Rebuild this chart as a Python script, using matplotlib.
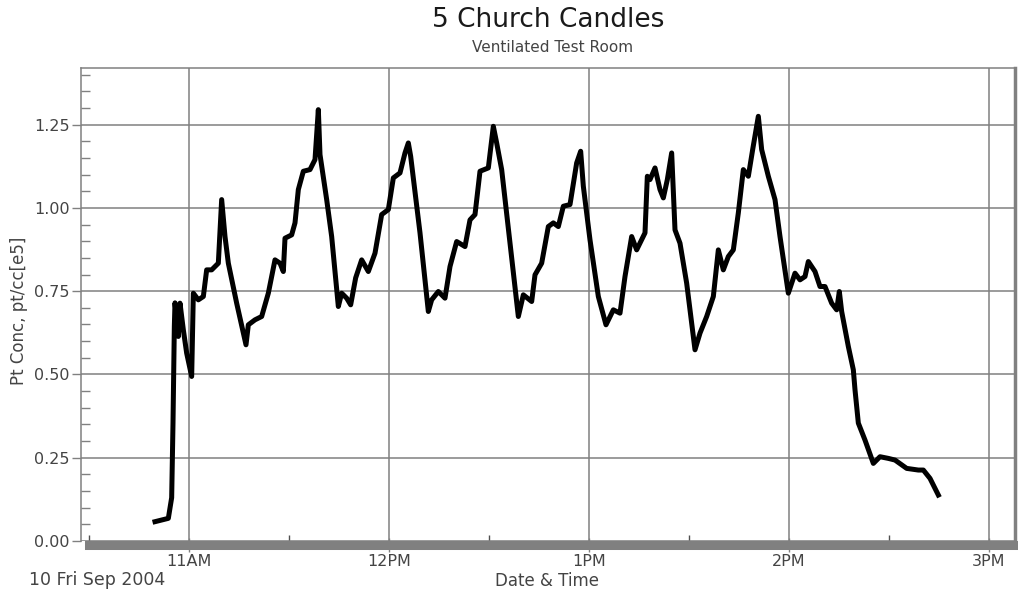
import datetime as dt

import matplotlib
matplotlib.use("Agg")
import matplotlib.dates as mdates
import matplotlib.ticker as mticker
from matplotlib import pyplot as plt

# minutes after 11:00 on 10 Sep 2004
minutes = [-10.2, -6.2, -5.2, -5.0, -4.8, -4.6, -4.4, -4.2, -3.2, -2.7,
           -1.7, -0.7, 0.8, 1.3, 2.8, 4.3, 5.3, 6.8, 8.8, 9.8,
           10.8, 11.8, 14.3, 17.1, 17.8, 19.8, 21.8, 23.8, 25.8, 27.3,
           28.3, 28.8, 30.8, 31.8, 32.8, 34.3, 36.3, 37.8, 38.8, 39.3,
           41.3, 42.8, 44.8, 45.8, 47.3, 48.5, 50.0, 51.8, 53.8, 55.8,
           57.8, 59.8, 61.3, 63.3, 64.8, 65.8, 66.5, 69.3, 71.8, 72.8,
           74.8, 76.8, 78.3, 80.3, 82.8, 84.3, 85.8, 87.3, 89.8, 91.3,
           92.3, 93.8, 96.3, 98.8, 100.3, 102.8, 103.8, 105.8, 107.8, 109.3,
           110.8, 112.3, 114.3, 116.3, 117.5, 118.3, 120.3, 122.8, 125.1, 127.3,
           129.3, 130.8, 132.8, 134.3, 136.8, 137.5, 138.3, 139.8, 141.3, 142.3,
           143.5, 144.8, 145.8, 147.3, 149.3, 151.8, 153.3, 155.3, 157.3, 158.8,
           160.3, 161.8, 163.3, 164.8, 166.3, 167.8, 169.1, 170.8, 171.8, 173.8,
           175.8, 177.3, 179.8, 181.8, 183.3, 184.8, 185.8, 187.8, 189.3, 190.8,
           192.8, 194.3, 195.1, 195.8, 197.8, 199.3, 199.8, 200.8, 202.8, 205.3,
           207.3, 209.8, 211.8, 215.3, 218.8, 220.3, 222.3, 224.8]

conc = [0.058, 0.068, 0.13, 0.243, 0.354, 0.50, 0.644, 0.715, 0.614, 0.714,
        0.634, 0.564, 0.494, 0.744, 0.724, 0.734, 0.814, 0.814, 0.834, 1.025,
        0.914, 0.834, 0.714, 0.589, 0.649, 0.664, 0.674, 0.744, 0.844, 0.834,
        0.809, 0.909, 0.919, 0.955, 1.055, 1.11, 1.115, 1.145, 1.295, 1.16,
        1.025, 0.914, 0.704, 0.744, 0.729, 0.709, 0.79, 0.844, 0.809, 0.864,
        0.98, 0.995, 1.09, 1.105, 1.165, 1.195, 1.155, 0.925, 0.689, 0.724,
        0.749, 0.729, 0.824, 0.899, 0.884, 0.964, 0.98, 1.11, 1.12, 1.245,
        1.195, 1.115, 0.894, 0.674, 0.739, 0.719, 0.799, 0.834, 0.944, 0.955,
        0.944, 1.005, 1.01, 1.135, 1.17, 1.065, 0.904, 0.734, 0.649, 0.694,
        0.684, 0.794, 0.914, 0.874, 0.925, 1.095, 1.085, 1.12, 1.055, 1.03,
        1.085, 1.165, 0.934, 0.894, 0.774, 0.574, 0.624, 0.674, 0.734, 0.874,
        0.814, 0.854, 0.874, 0.985, 1.115, 1.095, 1.175, 1.275, 1.175, 1.095,
        1.025, 0.914, 0.744, 0.804, 0.784, 0.794, 0.839, 0.809, 0.764, 0.764,
        0.714, 0.694, 0.749, 0.689, 0.584, 0.514, 0.454, 0.354, 0.303, 0.233,
        0.253, 0.248, 0.243, 0.218, 0.213, 0.213, 0.188, 0.138]

base = dt.datetime(2004, 9, 10, 11, 0)
times = [base + dt.timedelta(minutes=m) for m in minutes]

x_start = base + dt.timedelta(minutes=-32.4)
x_end = base + dt.timedelta(minutes=247.5)
band_start = base + dt.timedelta(minutes=-30)

GRID = "#808080"
TXT = "#444444"
plt.rcParams['font.family'] = ['DejaVu Sans']

fig = plt.figure(figsize=(10.18, 5.92), dpi=100)
ax = fig.add_axes([81 / 1018, 51 / 592, 933 / 1018, 473 / 592])
ax.set_axisbelow(True)

ax.plot(times, conc, color="black", lw=3.6, solid_joinstyle="round")

ax.set_xlim(x_start, x_end)
ax.set_ylim(0, 1.42)

# y axis
ax.yaxis.set_major_locator(mticker.MultipleLocator(0.25))
ax.yaxis.set_minor_locator(mticker.MultipleLocator(0.05))
ax.yaxis.set_major_formatter(mticker.FormatStrFormatter("%.2f"))
ax.tick_params(axis="y", which="major", direction="out", length=6.5, width=1,
               color=GRID, labelsize=11.5, labelcolor=TXT, pad=1.5)
ax.tick_params(axis="y", which="minor", direction="in", length=6.5, width=1,
               color=GRID)

# x axis
def hour_label(v, pos):
    d = mdates.num2date(v)
    h = d.hour % 12 or 12
    return f"{h}{'AM' if d.hour < 12 else 'PM'}"

ax.xaxis.set_major_locator(mdates.HourLocator())
ax.xaxis.set_minor_locator(mdates.MinuteLocator(byminute=[30]))
ax.xaxis.set_major_formatter(mticker.FuncFormatter(hour_label))
ax.tick_params(axis="x", which="major", direction="inout", length=10, width=1,
               color=GRID, labelsize=11.5, labelcolor=TXT, pad=1.5)
ax.tick_params(axis="x", which="minor", direction="in", length=7, width=1,
               color="#505050")

ax.grid(True, which="major", color=GRID, lw=1.1)

# frame
for side in ["left", "top"]:
    ax.spines[side].set_color(GRID)
    ax.spines[side].set_linewidth(1.1)
ax.spines["right"].set_color(GRID)
ax.spines["right"].set_linewidth(2.5)
ax.spines["right"].set_position(("outward", 1))
ax.spines["bottom"].set_color(GRID)
ax.spines["bottom"].set_linewidth(6.5)
ax.spines["bottom"].set_position(("outward", 3))
ax.spines["bottom"].set_bounds(mdates.date2num(band_start), mdates.date2num(x_end))

ax.set_xlabel("Date & Time", fontsize=12, color=TXT, va="center")
ax.xaxis.set_label_coords((547 - 81) / 933, (541 - 581) / 473)
ax.set_ylabel("Pt Conc, pt/cc[e5]", fontsize=12, color=TXT, va="center")
ax.yaxis.set_label_coords((19 - 81) / 933, (541 - 311) / 473)

fig.text(29 / 1018, 1 - 580 / 592, "10 Fri Sep 2004", fontsize=12.5, color=TXT,
         ha="left", va="center")
fig.text(548 / 1018, 1 - 20 / 592, "5 Church Candles", fontsize=19,
         color="#1a1a1a", ha="center", va="center")
fig.text(553 / 1018, 1 - 47 / 592, "Ventilated Test Room", fontsize=11,
         color=TXT, ha="center", va="center")

fig.savefig("out.png", dpi=100)
